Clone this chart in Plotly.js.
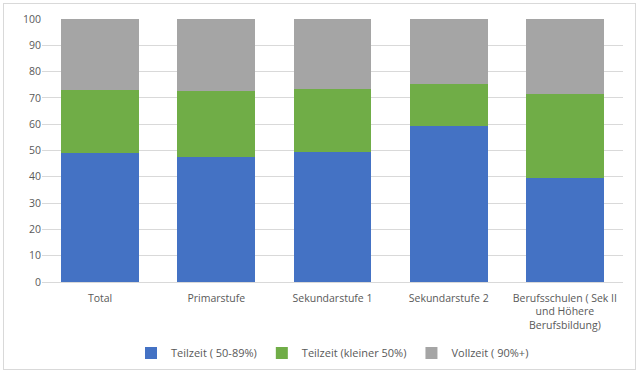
<!DOCTYPE html>
<html>
<head>
<meta charset="utf-8">
<script src="https://cdn.plot.ly/plotly-3.0.1.min.js"></script>
<style>
html,body{margin:0;padding:0;background:#fff;}
#wrap{position:relative;width:640px;height:375px;}
#frame{position:absolute;left:3px;top:3px;width:633px;height:367px;border:1px solid #d9d9d9;box-sizing:border-box;pointer-events:none;}
#chart{position:absolute;left:0;top:0;width:640px;height:375px;}
</style>
</head>
<body>
<div id="wrap"><div id="chart"></div><div id="frame"></div></div>
<script>
const categories = ["Total", "Primarstufe", "Sekundarstufe 1", "Sekundarstufe 2", "Berufsschulen ( Sek II<br>und Höhere<br>Berufsbildung)"];
const teilzeit5089 = [49.0, 47.5, 49.4, 59.4, 39.7];
const teilzeitKlein = [24.1, 25.1, 24.0, 15.9, 31.8];
const vollzeit = [26.9, 27.4, 26.6, 24.7, 28.5];
const seriesNames = ["Teilzeit ( 50-89%)", "Teilzeit (kleiner 50%)", "Vollzeit ( 90%+)"];
const colors = ["#4472c4", "#70ad47", "#a5a5a5"];

const seriesValues = [teilzeit5089, teilzeitKlein, vollzeit];
const traces = seriesValues.map((vals, i) => ({
  type: "bar",
  x: categories,
  y: vals,
  name: seriesNames[i],
  marker: {color: colors[i], line: {width: 0}},
  hoverinfo: "skip"
}));

const layout = {
  width: 640, height: 375,
  barmode: "stack",
  bargap: 0.33,
  margin: {l: 42, r: 17, t: 19, b: 93, autoexpand: false},
  paper_bgcolor: "#fff",
  plot_bgcolor: "#fff",
  font: {family: "Open Sans, Liberation Sans, sans-serif", size: 10, color: "#595959"},
  xaxis: {
    automargin: false,
    showline: true, linecolor: "#d9d9d9", linewidth: 1,
    ticks: "", showgrid: false,
    ticklabelstandoff: 6,
    tickfont: {size: 10.5, color: "#595959"}
  },
  yaxis: {
    automargin: false,
    range: [0, 100], dtick: 10, tick0: 0,
    showgrid: true, gridcolor: "#d9d9d9", gridwidth: 1,
    showline: false, zeroline: false, ticks: "",
    tickfont: {size: 10.5, color: "#595959"}
  },
  showlegend: true,
  legend: {
    orientation: "h", x: 0.5, xanchor: "center", y: -0.27, yanchor: "middle",
    font: {size: 11, color: "#595959"},
    itemwidth: 30, traceorder: "normal"
  }
};

Plotly.newPlot("chart", traces, layout, {displayModeBar: false, staticPlot: true});
</script>
</body>
</html>
